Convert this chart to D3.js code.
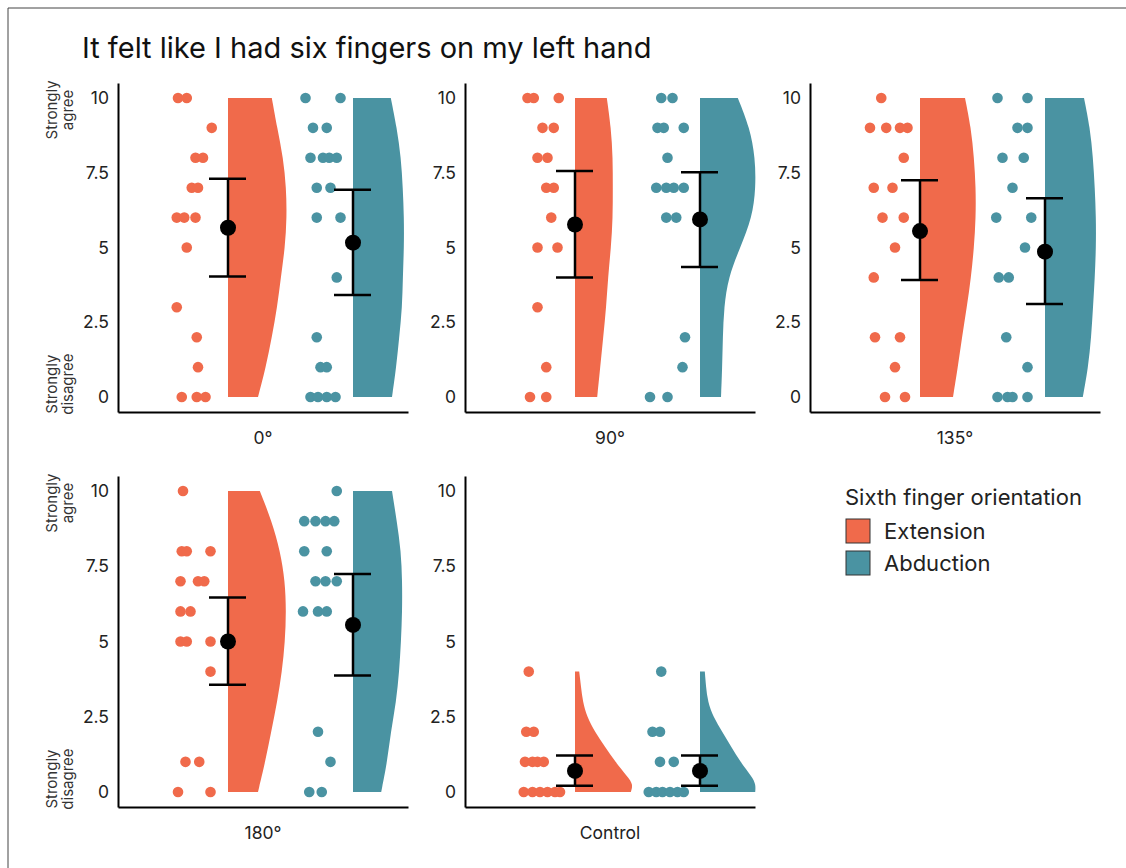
<!DOCTYPE html>
<html>
<head>
<meta charset="utf-8">
<script src="https://cdn.jsdelivr.net/npm/d3@7"></script>
<style>
  body { margin: 0; background: #fff; }
  svg text { font-family: Inter, "Noto Sans", sans-serif; }
</style>
</head>
<body>
<div id="chart"></div>
<script>
// datos
const conditions = ["0°", "90°", "135°", "180°", "Control"];
const orientations = ["Extension", "Abduction"];
const yTicks = [0, 2.5, 5, 7.5, 10];

// puntos individuales: [puntaje, desplazamiento horizontal (jitter)]
const ext0 = [[10,-0.40],[10,-0.33],[9,-0.13],[8,-0.26],[8,-0.20],[7,-0.29],[7,-0.24],[6,-0.41],[6,-0.35],[6,-0.26],[5,-0.33],[3,-0.41],[2,-0.25],[1,-0.24],[0,-0.37],[0,-0.25],[0,-0.18]];
const abd0 = [[10,-0.38],[10,-0.10],[9,-0.32],[9,-0.21],[8,-0.34],[8,-0.24],[8,-0.19],[8,-0.13],[7,-0.29],[7,-0.18],[6,-0.29],[6,-0.10],[4,-0.13],[2,-0.29],[1,-0.26],[1,-0.21],[0,-0.34],[0,-0.28],[0,-0.21],[0,-0.14]];
const ext90 = [[10,-0.38],[10,-0.33],[10,-0.13],[9,-0.26],[9,-0.17],[8,-0.30],[8,-0.22],[7,-0.23],[7,-0.17],[6,-0.19],[5,-0.30],[5,-0.14],[3,-0.30],[1,-0.23],[0,-0.36],[0,-0.23]];
const abd90 = [[10,-0.31],[10,-0.22],[9,-0.34],[9,-0.29],[9,-0.13],[8,-0.26],[7,-0.35],[7,-0.27],[7,-0.21],[7,-0.13],[6,-0.27],[6,-0.19],[2,-0.12],[1,-0.14],[0,-0.40],[0,-0.26]];
const ext135 = [[10,-0.31],[9,-0.40],[9,-0.27],[9,-0.16],[9,-0.10],[8,-0.13],[7,-0.37],[7,-0.22],[6,-0.30],[6,-0.13],[5,-0.20],[4,-0.37],[2,-0.36],[2,-0.16],[1,-0.20],[0,-0.28],[0,-0.12]];
const abd135 = [[10,-0.38],[10,-0.14],[9,-0.22],[9,-0.14],[8,-0.34],[8,-0.17],[7,-0.26],[6,-0.39],[6,-0.11],[5,-0.16],[4,-0.37],[4,-0.29],[2,-0.31],[1,-0.14],[0,-0.38],[0,-0.30],[0,-0.26],[0,-0.14]];
const ext180 = [[10,-0.36],[8,-0.37],[8,-0.33],[8,-0.14],[7,-0.38],[7,-0.24],[7,-0.19],[6,-0.38],[6,-0.30],[5,-0.38],[5,-0.33],[5,-0.14],[4,-0.14],[1,-0.34],[1,-0.23],[0,-0.40],[0,-0.14]];
const abd180 = [[10,-0.13],[9,-0.39],[9,-0.30],[9,-0.22],[9,-0.15],[8,-0.39],[8,-0.21],[7,-0.30],[7,-0.22],[7,-0.13],[6,-0.40],[6,-0.28],[6,-0.21],[2,-0.28],[1,-0.18],[0,-0.35],[0,-0.25]];
const extCtrl = [[4,-0.37],[2,-0.39],[2,-0.33],[1,-0.40],[1,-0.34],[1,-0.30],[1,-0.25],[0,-0.41],[0,-0.34],[0,-0.28],[0,-0.22],[0,-0.16],[0,-0.12]];
const abdCtrl = [[4,-0.31],[2,-0.38],[2,-0.32],[1,-0.32],[1,-0.21],[0,-0.41],[0,-0.35],[0,-0.30],[0,-0.24],[0,-0.18],[0,-0.13]];

// media e intervalo
const meanExt = [5.66, 5.77, 5.55, 5.00, 0.70];
const lowExt  = [4.03, 4.00, 3.91, 3.56, 0.21];
const highExt = [7.30, 7.56, 7.25, 6.46, 1.21];
const meanAbd = [5.16, 5.94, 4.86, 5.55, 0.70];
const lowAbd  = [3.41, 4.35, 3.11, 3.87, 0.21];
const highAbd = [6.93, 7.52, 6.65, 7.24, 1.21];

// densidad relativa (medio violin)
const scoreLevels = [0, 1, 2, 3, 4, 5, 6, 7, 8, 9, 10];
const controlLevels = [0, 0.25, 0.5, 1, 1.5, 2, 2.5, 3, 3.5, 4];
const densExt = [
  [.50,.63,.73,.82,.88,.95,.98,.97,.92,.82,.73],
  [.37,.42,.47,.52,.55,.60,.63,.63,.63,.60,.53],
  [.55,.63,.70,.78,.85,.90,.93,.93,.90,.85,.75],
  [.50,.62,.72,.82,.90,.95,.97,.95,.87,.73,.53],
  [.93,.97,.88,.67,.50,.33,.20,.13,.10,.07]
];
const densAbd = [
  [.65,.72,.77,.82,.83,.85,.85,.83,.80,.73,.63],
  [.35,.37,.38,.40,.47,.67,.87,.93,.92,.83,.63],
  [.63,.72,.77,.80,.83,.85,.85,.83,.80,.75,.65],
  [.47,.57,.63,.72,.77,.80,.82,.82,.80,.73,.65],
  [.92,.93,.87,.67,.52,.37,.22,.13,.10,.08]
];

const pointsExt = [ext0, ext90, ext135, ext180, extCtrl];
const pointsAbd = [abd0, abd90, abd135, abd180, abdCtrl];

const colors = {Extension: "#F06A4B", Abduction: "#4A93A2"};

// Grafico
const width = 1126;
const height = 868;
const panelW = 290;
const colX = [118, 465, 810];
const rowY = [[83, 412], [476, 807]];

let svg = d3.select("#chart").append("svg")
  .attr("width", width)
  .attr("height", height);

// marco de la imagen (solo arriba e izquierda)
svg.append("line").attr("x1", 8).attr("y1", 8).attr("x2", width).attr("y2", 8)
  .attr("stroke", "#444").attr("stroke-width", 1);
svg.append("line").attr("x1", 8).attr("y1", 8).attr("x2", 8).attr("y2", height)
  .attr("stroke", "#444").attr("stroke-width", 1);

svg.append("text")
  .attr("x", 82)
  .attr("y", 58)
  .attr("font-size", 29)
  .attr("fill", "#111")
  .text("It felt like I had six fingers on my left hand");

let wScale = d3.scaleLinear().domain([0, 1]).range([0, 60]);

conditions.forEach((cond, i) => {
  const col = i % 3;
  const row = Math.floor(i / 3);
  let xScale = d3.scaleLinear().domain([0.12, 2.44]).range([colX[col], colX[col] + panelW]);
  let yScale = d3.scaleLinear().domain([-0.5, 10.5]).range([rowY[row][1], rowY[row][0]]);
  let g = svg.append("g");

  const levels = cond === "Control" ? controlLevels : scoreLevels;

  orientations.forEach((o, k) => {
    const pos = k + 1;
    const dens = k === 0 ? densExt[i] : densAbd[i];
    const pts = k === 0 ? pointsExt[i] : pointsAbd[i];
    const m = k === 0 ? meanExt[i] : meanAbd[i];
    const lo = k === 0 ? lowExt[i] : lowAbd[i];
    const hi = k === 0 ? highExt[i] : highAbd[i];
    const cx = xScale(pos);

    // medio violin
    let area = d3.area()
      .curve(d3.curveBasis)
      .y((d, j) => yScale(levels[j]))
      .x0(cx)
      .x1(d => cx + wScale(d));
    g.append("path")
      .attr("d", area(dens))
      .attr("fill", colors[o]);

    // puntos
    g.selectAll(null)
      .data(pts)
      .join("circle")
      .attr("cx", d => xScale(pos + d[1]))
      .attr("cy", d => yScale(d[0]))
      .attr("r", 5.3)
      .attr("fill", colors[o]);

    // barra de error
    g.append("line")
      .attr("x1", cx).attr("x2", cx)
      .attr("y1", yScale(lo)).attr("y2", yScale(hi))
      .attr("stroke", "#000").attr("stroke-width", 2.5);
    [lo, hi].forEach(v => {
      g.append("line")
        .attr("x1", cx - 19).attr("x2", cx + 18)
        .attr("y1", yScale(v)).attr("y2", yScale(v))
        .attr("stroke", "#000").attr("stroke-width", 2.5);
    });
    g.append("circle")
      .attr("cx", cx).attr("cy", yScale(m))
      .attr("r", 8).attr("fill", "#000");
  });

  // ejes
  let yAxis = g.append("g")
    .attr("transform", `translate(${colX[col]},0)`)
    .call(d3.axisLeft(yScale).tickValues(yTicks).tickSize(0).tickSizeOuter(0).tickPadding(9).tickFormat(d3.format("~g")));
  yAxis.select(".domain").attr("stroke", "#000").attr("stroke-width", 2);
  yAxis.selectAll("text").attr("font-size", 17.5).attr("fill", "#222").style("font-family", "Inter, sans-serif");

  let xAxis = g.append("g")
    .attr("transform", `translate(0,${rowY[row][1]})`)
    .call(d3.axisBottom(xScale).tickValues([]).tickSizeOuter(0));
  xAxis.select(".domain").attr("stroke", "#000").attr("stroke-width", 2);

  g.append("text")
    .attr("x", colX[col] + panelW / 2)
    .attr("y", rowY[row][1] + 32)
    .attr("text-anchor", "middle")
    .attr("font-size", 17.5)
    .attr("fill", "#222")
    .text(cond);

  // etiquetas de acuerdo, solo columna izquierda
  if (col === 0) {
    [[9.6, "Strongly", "agree"], [0.43, "Strongly", "disagree"]].forEach(lab => {
      let t = svg.append("text")
        .attr("transform", `translate(0,${yScale(lab[0])}) rotate(-90)`)
        .attr("text-anchor", "middle")
        .attr("font-size", 15)
        .attr("fill", "#333");
      t.append("tspan").attr("x", 0).attr("y", 57).text(lab[1]);
      t.append("tspan").attr("x", 0).attr("y", 73).text(lab[2]);
    });
  }
});

// leyenda
let legend = svg.append("g");
legend.append("text")
  .attr("x", 845).attr("y", 505)
  .attr("font-size", 22).attr("fill", "#222")
  .text("Sixth finger orientation");
orientations.forEach((o, k) => {
  legend.append("rect")
    .attr("x", 846).attr("y", 519 + k * 32)
    .attr("width", 24).attr("height", 24)
    .attr("fill", colors[o])
    .attr("stroke", "#333").attr("stroke-width", 1);
  legend.append("text")
    .attr("x", 884).attr("y", 539 + k * 32)
    .attr("font-size", 22).attr("fill", "#222")
    .text(o);
});
</script>
</body>
</html>
